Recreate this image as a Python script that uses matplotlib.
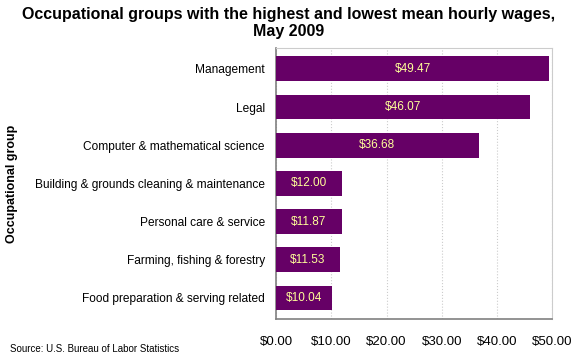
import matplotlib
matplotlib.use('Agg')
from matplotlib import pyplot as plt
from matplotlib.ticker import FuncFormatter

# 数据
groups = ['Management', 'Legal', 'Computer & mathematical science',
          'Building & grounds cleaning & maintenance', 'Personal care & service',
          'Farming, fishing & forestry', 'Food preparation & serving related']
wages = [49.47, 46.07, 36.68, 12.00, 11.87, 11.53, 10.04]

plt.rcParams['font.family'] = ['Liberation Sans', 'DejaVu Sans']

fig = plt.figure(figsize=(5.8, 3.6), dpi=100)
ax = fig.add_axes([0.476, 0.114, 0.476, 0.753])

pos = list(range(len(groups)))
bars = ax.barh(pos, wages, height=0.65, color='#660066', zorder=3)
ax.invert_yaxis()
ax.set_ylim(len(groups) - 0.45, -0.55)
ax.set_xlim(0, 50)
ax.set_yticks(pos)
ax.set_yticklabels(groups, fontsize=8.6)
ax.set_xticks(range(0, 51, 10))
ax.xaxis.set_major_formatter(FuncFormatter(lambda v, p: f'${v:.2f}'))
ax.tick_params(axis='x', labelsize=9.5, length=0, pad=12)
ax.tick_params(axis='y', length=0, pad=8)

# 柱内标签
for b, w in zip(bars, wages):
    ax.text(w / 2, b.get_y() + b.get_height() / 2, f'${w:.2f}',
            ha='center', va='center', color='#ffff99', fontsize=8.5, zorder=4)

ax.grid(axis='x', color='#cccccc', linestyle=':', linewidth=0.8, zorder=0)
for side in ['top', 'right']:
    ax.spines[side].set_color('#cccccc')
for side in ['left', 'bottom']:
    ax.spines[side].set_color('#808080')
    ax.spines[side].set_linewidth(1.2)

ax.set_ylabel('Occupational group', fontsize=9, fontweight='bold', labelpad=0)
ax.yaxis.set_label_coords(-0.935, 0.5)

fig.suptitle('Occupational groups with the highest and lowest mean hourly wages,\nMay 2009',
             fontsize=11.5, fontweight='bold', y=0.98, x=0.497, linespacing=1.15)
fig.text(0.018, 0.022, 'Source: U.S. Bureau of Labor Statistics', fontsize=7)

plt.savefig('out.png', dpi=100)
